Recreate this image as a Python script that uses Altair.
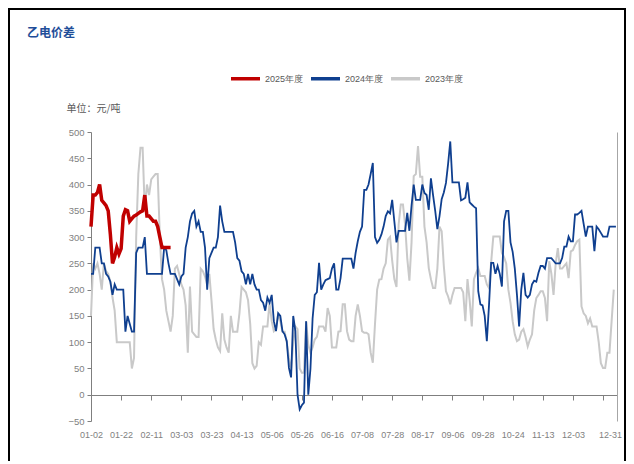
import altair as alt
import pandas as pd

# ---------------- data ----------------
x_ticks = [0, 14, 28, 42, 56, 70, 84, 98, 112, 126, 140, 154, 168, 182, 196, 210, 224, 238]
x_labels = ["01-02", "01-22", "02-11", "03-03", "03-23", "04-13", "05-06", "05-26", "06-16",
            "07-08", "07-28", "08-17", "09-06", "09-28", "10-24", "11-13", "12-03", "12-31"]
y_ticks = [-50, 0, 50, 100, 150, 200, 250, 300, 350, 400, 450, 500]

series_names = ["2025年度", "2024年度", "2023年度"]
series_colors = ["#C00000", "#0F3F8F", "#C9C9C9"]

red_2025 = [320, 380, 380, 385, 400, 370, 365, 360, 350, 305,
            250, 262, 280, 268, 278, 340, 352, 350, 330, 335,
            340, 342, 345, 348, 350, 380, 340, 340, 335, 330,
            330, 320, 300, 280, 280, 280, 280, 280]

blue_2024 = [230, 230, 280, 280, 280, 250, 250, 230, 225, 215,
             190, 210, 200, 200, 200, 200, 120, 150, 135, 120,
             120, 270, 280, 280, 280, 300, 230, 230, 230, 230,
             230, 230, 230, 230, 280, 275, 250, 230, 230, 230,
             220, 210, 225, 230, 280, 300, 330, 345, 350, 320,
             330, 310, 310, 280, 200, 260, 270, 280, 280, 300,
             360, 330, 310, 310, 310, 310, 310, 290, 260, 255,
             235, 230, 210, 230, 210, 230, 210, 200, 200, 180,
             175, 160, 185, 175, 190, 140, 121, 155, 150, 121,
             115, 102, 51, 33, 150, 121, 0, -28, -20, -15,
             140, 0, 49, 145, 190, 195, 251, 200, 210, 218,
             220, 222, 240, 250, 200, 200, 222, 259, 259, 259,
             259, 259, 240, 270, 292, 310, 320, 390, 390, 400,
             420, 441, 300, 289, 295, 305, 320, 340, 349, 345,
             371, 330, 290, 312, 312, 312, 312, 346, 312, 360,
             400, 371, 371, 371, 400, 384, 380, 352, 412, 380,
             350, 315, 340, 372, 385, 403, 440, 482, 404, 404,
             404, 404, 370, 372, 375, 404, 366, 362, 358, 355,
             197, 172, 170, 150, 102, 170, 251, 251, 230, 245,
             230, 206, 330, 350, 350, 290, 272, 240, 190, 130,
             200, 232, 190, 185, 190, 210, 217, 215, 232, 245,
             245, 240, 260, 260, 260, 255, 250, 250, 250, 260,
             282, 282, 301, 292, 292, 343, 343, 346, 350, 325,
             301, 320, 320, 320, 273, 320, 315, 308, 301, 301,
             301, 320, 320, 320, 320]

gray_2023 = [150, 250, 240, 250, 230, 200, 250, 235, 230, 215,
             185, 160, 100, 100, 100, 100, 100, 100, 100, 50,
             70, 300, 420, 470, 470, 350, 400, 380, 410, 415,
             420, 420, 300, 220, 200, 160, 140, 120, 150, 240,
             245, 230, 210, 200, 170, 80, 206, 120, 115, 110,
             110, 240, 235, 225, 210, 230, 180, 125, 105, 90,
             83, 155, 105, 90, 80, 150, 120, 120, 120, 155,
             205, 200, 195, 180, 135, 60, 50, 55, 100, 95,
             130, 130, 130, 175, 140, 121, 125, 155, 140, 120,
             120, 100, 70, 45, 100, 130, 125, 50, 42, 42,
             140, 95, 80, 90, 105, 110, 130, 130, 130, 120,
             165, 150, 90, 90, 90, 120, 121, 172, 172, 121,
             105, 102, 102, 150, 172, 150, 121, 118, 118, 115,
             80, 61, 134, 200, 219, 220, 240, 250, 295, 300,
             255, 220, 205, 324, 362, 362, 324, 260, 217, 290,
             416, 420, 473, 415, 415, 320, 290, 241, 220, 203,
             203, 240, 320, 311, 245, 197, 187, 172, 190, 203,
             203, 203, 203, 195, 140, 220, 180, 130, 220, 232,
             241, 226, 226, 226, 210, 203, 252, 301, 301, 301,
             301, 270, 262, 250, 200, 175, 140, 115, 102, 105,
             120, 125, 110, 92, 105, 115, 160, 184, 190, 197,
             197, 184, 140, 254, 230, 190, 250, 279, 240, 240,
             245, 250, 222, 273, 275, 285, 292, 295, 168, 155,
             150, 136, 145, 130, 130, 130, 100, 60, 51, 51,
             80, 80, 140, 200]

rows = []
for name, vals in zip(series_names, [red_2025, blue_2024, gray_2023]):
    for i, v in enumerate(vals):
        rows.append({"idx": i, "value": v, "series": name})
df = pd.DataFrame(rows)

# ---------------- styling ----------------
FONT = "Liberation Sans Narrow, Liberation Sans, Arial, sans-serif"
AXIS_GRAY = "#7F7F7F"
W, H = 526, 289

label_expr = "[" + ",".join("'%s'" % s for s in x_labels) + "][round(datum.value / 14)]"

x_scale = alt.Scale(domain=[0, 244.5], nice=False, zero=False)
y_scale = alt.Scale(domain=[-50, 500], nice=False, zero=False)

x_axis = alt.Axis(values=x_ticks, labelExpr=label_expr, offset=-26, title=None,
                  domainColor=AXIS_GRAY, tickColor=AXIS_GRAY, tickSize=5,
                  labelPadding=30, labelColor=AXIS_GRAY, labelFontSize=9,
                  labelFont=FONT, labelAngle=0, grid=False, labelOverlap=False,
                  labelFlush=False,
                  labelOffset={"condition": {"test": "datum.value == 238", "value": 7}, "value": 0})

y_axis = alt.Axis(values=y_ticks, title="单位：元/吨", titleAngle=0, titleAlign="left",
                  titleBaseline="middle", titleX=-25, titleY=-24,
                  titleFontWeight="normal", titleColor="#595959", titleFontSize=10,
                  titleFont="Noto Sans CJK SC",
                  labelColor=AXIS_GRAY, labelFontSize=9.5, labelFont=FONT, labelPadding=3,
                  tickSize=4, tickColor=AXIS_GRAY, domainColor=AXIS_GRAY, grid=False)

color = alt.Color("series:N",
                  scale=alt.Scale(domain=series_names, range=series_colors),
                  legend=alt.Legend(orient="none", legendX=138, legendY=-70,
                                    direction="horizontal", title=None,
                                    symbolType="stroke", symbolSize=841,
                                    symbolStrokeWidth=3.5, labelFontSize=9,
                                    labelColor="#595959", labelFont=FONT,
                                    labelOffset=3, columnPadding=0))

base = alt.Chart(df)

gray_layer = base.transform_filter(alt.datum.series == "2023年度").mark_line(strokeWidth=2).encode(
    x=alt.X("idx:Q", scale=x_scale, axis=x_axis),
    y=alt.Y("value:Q", scale=y_scale, axis=y_axis),
    color=color,
)
blue_layer = base.transform_filter(alt.datum.series == "2024年度").mark_line(strokeWidth=1.8).encode(
    x=alt.X("idx:Q", scale=x_scale, axis=x_axis),
    y=alt.Y("value:Q", scale=y_scale, axis=None),
    color=color,
)
red_layer = base.transform_filter(alt.datum.series == "2025年度").mark_line(strokeWidth=3.5).encode(
    x=alt.X("idx:Q", scale=x_scale, axis=x_axis),
    y=alt.Y("value:Q", scale=y_scale, axis=None),
    color=color,
)
right_axis_layer = base.transform_filter(alt.datum.series == "2024年度").mark_line(opacity=0).encode(
    x=alt.X("idx:Q", scale=x_scale, axis=x_axis),
    y=alt.Y("value:Q", scale=y_scale,
            axis=alt.Axis(orient="right", labels=False, ticks=False, title=None,
                          domainColor="#A6A6A6", grid=False, values=y_ticks)),
)

one = alt.Data(values=[{}])
title_layer = alt.Chart(one).mark_text(
    text="乙电价差", align="left", baseline="middle", font="Noto Sans CJK SC",
    fontSize=12, fontWeight="bold", color="#1F4E99"
).encode(x=alt.value(-64), y=alt.value(-99))

frame_layer = alt.Chart(one).mark_rect(filled=False, stroke="#000000", strokeWidth=2).encode(
    x=alt.value(-82), x2=alt.value(534), y=alt.value(-123), y2=alt.value(400)
)

chart = alt.layer(
    gray_layer, blue_layer, red_layer, right_axis_layer, title_layer, frame_layer
).resolve_axis(y="independent").properties(
    width=W, height=H,
    autosize=alt.AutoSizeParams(type="none"),
    padding={"left": 83, "top": 124, "right": 9, "bottom": 40},
    background="white",
).configure_view(strokeWidth=0)

chart.save("out.html", embed_options={"renderer": "svg", "actions": False})
